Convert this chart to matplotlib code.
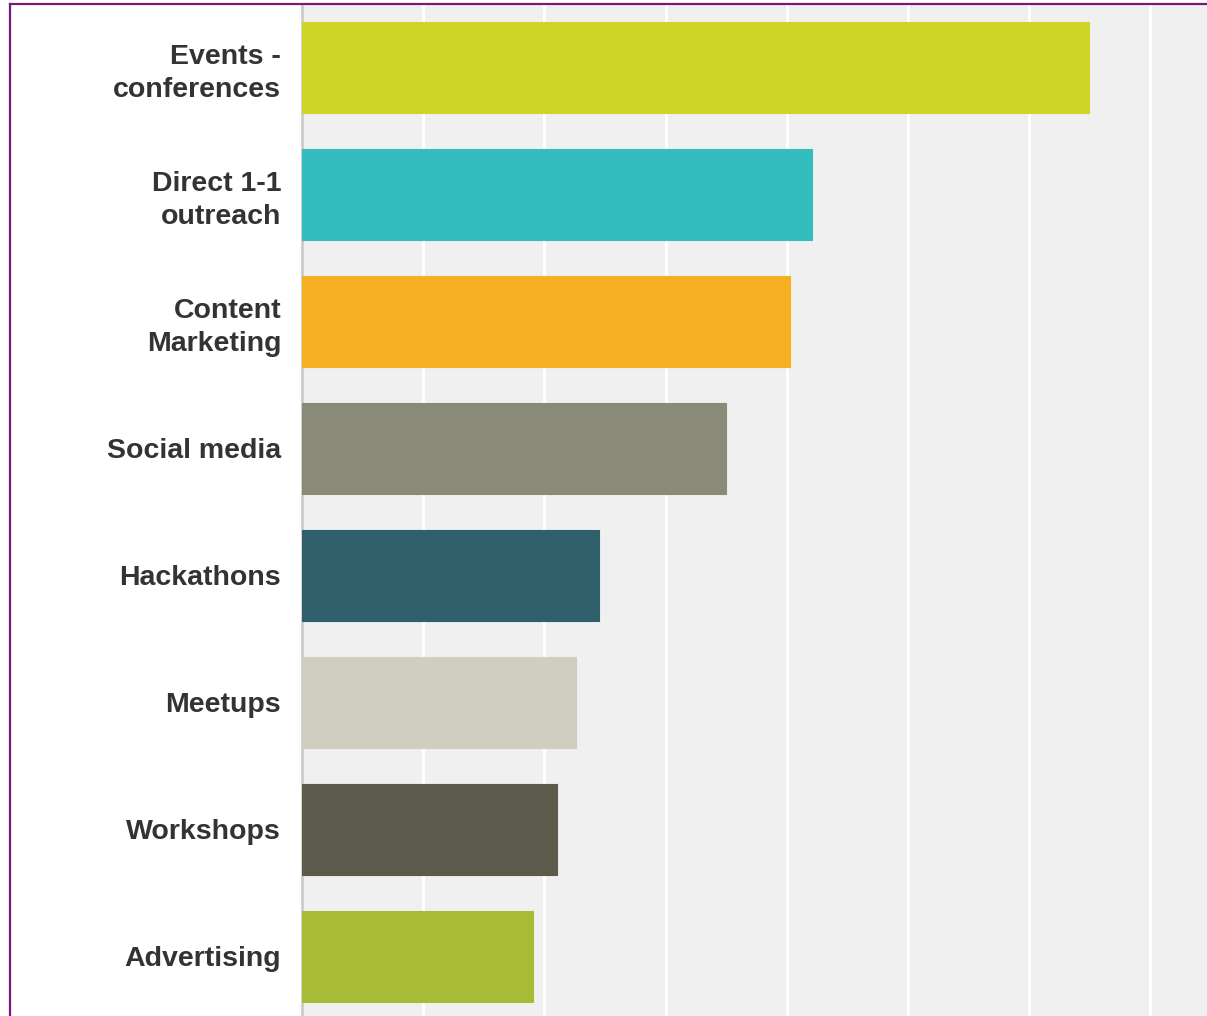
import matplotlib
matplotlib.use("Agg")
import matplotlib.pyplot as plt
from matplotlib.lines import Line2D

categories = [
    "Events -\nconferences",
    "Direct 1-1\noutreach",
    "Content\nMarketing",
    "Social media",
    "Hackathons",
    "Meetups",
    "Workshops",
    "Advertising",
]
values = [64.9, 42.1, 40.3, 35.0, 24.5, 22.6, 21.0, 19.1]
colors = [
    "#cfd526",
    "#33bdbf",
    "#f6af20",
    "#8a8a79",
    "#2e5f6b",
    "#d0cec0",
    "#5c5a4a",
    "#a8bb37",
]

W, H = 1207, 1016
fig = plt.figure(figsize=(W / 100, H / 100), dpi=100)
fig.patch.set_facecolor("white")

left = 302 / W
top = (H - 5) / H
ax = fig.add_axes([left, 0.0, 1.0 - left, top])
ax.set_facecolor("#f0f0f0")

y = list(range(len(categories)))
ax.barh(y, values, height=0.717, color=colors, edgecolor=colors,
        linewidth=0.8, zorder=3)

ax.set_xlim(0, 74.67)
ax.set_ylim(7.469, -0.492)
ax.set_xticks(range(10, 80, 10))
ax.xaxis.grid(True, color="white", linewidth=2.2, zorder=1)
ax.tick_params(axis="x", length=0, labelbottom=False)
ax.tick_params(axis="y", length=0, pad=15)
ax.set_yticks(y)
ax.set_yticklabels(categories, fontfamily="Liberation Sans", fontweight="bold",
                   fontsize=20.5, color="#333333", linespacing=1.32,
                   ha="right", ma="right")

for side in ("top", "right", "bottom"):
    ax.spines[side].set_visible(False)
ax.spines["left"].set_color("#cccccc")
ax.spines["left"].set_linewidth(2)

# purple frame along the top and left edges
fig.add_artist(Line2D([9.5 / W, 1.0], [1 - 3.5 / H, 1 - 3.5 / H],
                      transform=fig.transFigure, color="#77197a", linewidth=1.6))
fig.add_artist(Line2D([9.5 / W, 9.5 / W], [0.0, 1 - 3.5 / H],
                      transform=fig.transFigure, color="#77197a", linewidth=1.6))

fig.savefig("out.png", dpi=100)
